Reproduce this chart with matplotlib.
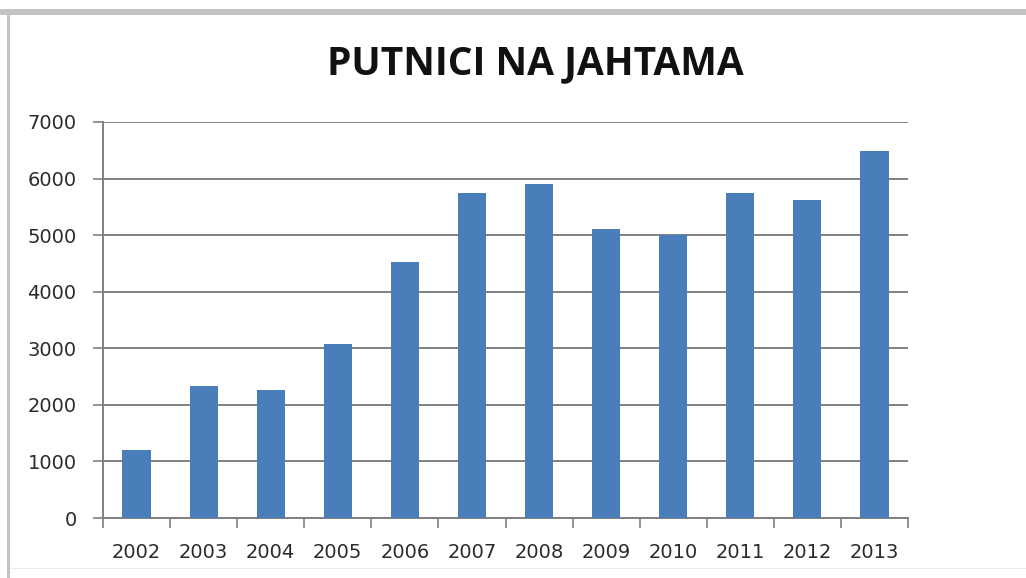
import matplotlib.pyplot as plt
from matplotlib.patches import Rectangle

W, H = 1026, 578

years = ["2002", "2003", "2004", "2005", "2006", "2007",
         "2008", "2009", "2010", "2011", "2012", "2013"]
passengers = [1200, 2330, 2260, 3070, 4530, 5740,
              5910, 5100, 5010, 5740, 5630, 6480]
y_ticks = [0, 1000, 2000, 3000, 4000, 5000, 6000, 7000]

BAR_COLOR = "#4A7EBB"
GRID_COLOR = "#808080"

fig = plt.figure(figsize=(W / 100, H / 100), dpi=100)
fig.patch.set_facecolor("white")

# grey frame of the screenshot (top and left)
fig.patches.append(Rectangle((0, 1 - 15 / H), 1, 6 / H, transform=fig.transFigure,
                             facecolor="#c3c3c3", edgecolor="none"))
fig.patches.append(Rectangle((7 / W, 0), 3 / W, 1 - 9 / H, transform=fig.transFigure,
                             facecolor="#c3c3c3", edgecolor="none"))
fig.patches.append(Rectangle((10 / W, 9 / H), 1, 1.5 / H, transform=fig.transFigure,
                             facecolor="#ececec", edgecolor="none"))

ax = fig.add_axes([103 / W, 60 / H, 805 / W, 396 / H])
x = list(range(len(years)))
ax.bar(x, passengers, width=0.42, color=BAR_COLOR, zorder=3)

ax.set_xlim(-0.5, len(years) - 0.5)
ax.set_ylim(0, 7000)
ax.set_yticks(y_ticks)
ax.set_yticklabels([str(v) for v in y_ticks])
ax.set_xticks(x)
ax.set_xticklabels(years)
ax.set_xticks([i - 0.5 for i in range(len(years) + 1)], minor=True)

ax.grid(axis="y", color=GRID_COLOR, linewidth=1.4, zorder=0)
ax.tick_params(axis="x", which="major", length=0, pad=18,
               labelsize=14, labelcolor="#2b2b2b")
ax.tick_params(axis="x", which="minor", length=7, width=1.2, color=GRID_COLOR)
ax.tick_params(axis="y", length=7, width=1.2, color=GRID_COLOR, pad=12,
               labelsize=14, labelcolor="#2b2b2b")

for s in ["top", "right"]:
    ax.spines[s].set_visible(False)
for s in ["left", "bottom"]:
    ax.spines[s].set_color(GRID_COLOR)
    ax.spines[s].set_linewidth(1.4)

fig.text(535 / W, 1 - 64 / H, "PUTNICI NA JAHTAMA", ha="center", va="center",
         fontsize=28, fontweight="bold", family="Open Sans", color="#111111")

fig.savefig("out.png", dpi=100)
